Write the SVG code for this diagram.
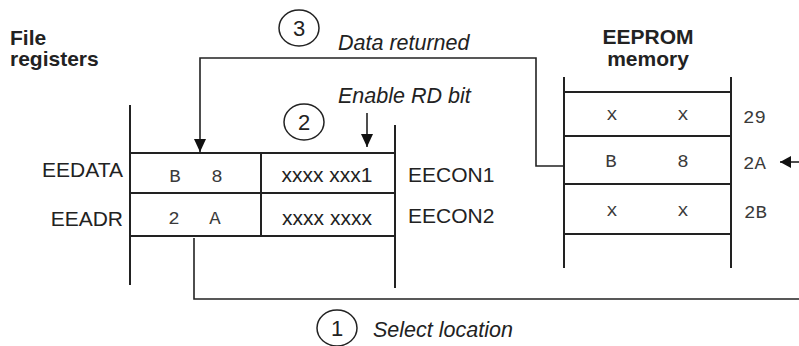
<svg xmlns="http://www.w3.org/2000/svg" width="799" height="346" viewBox="0 0 799 346">
<style>
.lbl{font-family:"Liberation Sans",Arial,sans-serif;font-size:21px;fill:#222}
.b{font-weight:bold}
.it{font-family:"Liberation Sans",Arial,sans-serif;font-style:italic;font-size:21.5px;fill:#222}
.num{font-family:"Liberation Sans",Arial,sans-serif;font-size:22px;fill:#222}
.mono{font-family:"Liberation Mono","Courier New",monospace;font-size:19px;fill:#3a3a3a}
.box{stroke:#222;stroke-width:2;fill:none}
.con{stroke:#222;stroke-width:1.6;fill:none}
.circ{stroke:#222;stroke-width:1.5;fill:none}
</style>
<defs>
<marker id="ah" viewBox="0 0 13 12" refX="13" refY="6" markerWidth="13" markerHeight="12" markerUnits="userSpaceOnUse" orient="auto">
<path d="M0,0 L13,6 L0,12 z" fill="#111"/>
</marker>
<marker id="ahs" viewBox="0 0 11 12" refX="11" refY="6" markerWidth="11" markerHeight="12" markerUnits="userSpaceOnUse" orient="auto">
<path d="M0,0 L11,6 L0,12 z" fill="#111"/>
</marker>
</defs>

<g id="file-registers-title">
<text class="lbl b" x="10" y="45">File</text>
<text class="lbl b" x="10" y="66">registers</text>
</g>

<g id="registers">
<line class="box" x1="130" y1="105" x2="130" y2="285"/>
<line class="box" x1="395" y1="125" x2="395" y2="288"/>
<line class="box" x1="130" y1="153" x2="395" y2="153"/>
<line class="box" x1="130" y1="193" x2="395" y2="193"/>
<line class="box" x1="130" y1="236" x2="395" y2="236"/>
<line class="box" x1="261" y1="153" x2="261" y2="236"/>
</g>

<g id="eedata">
<text class="lbl" x="123" y="177" text-anchor="end">EEDATA</text>
<text class="mono" x="175" y="182" text-anchor="middle">B</text>
<text class="mono" x="217" y="182" text-anchor="middle">8</text>
</g>
<g id="eeadr">
<text class="lbl" x="123" y="226" text-anchor="end">EEADR</text>
<text class="mono" x="174" y="224" text-anchor="middle">2</text>
<text class="mono" x="215" y="224" text-anchor="middle">A</text>
</g>
<g id="eecon1">
<text class="lbl" x="327" y="182" text-anchor="middle">xxxx xxx1</text>
<text class="lbl" x="408" y="182">EECON1</text>
</g>
<g id="eecon2">
<text class="lbl" x="327" y="225" text-anchor="middle">xxxx xxxx</text>
<text class="lbl" x="408" y="223">EECON2</text>
</g>

<g id="eeprom">
<text class="lbl b" x="648" y="44" text-anchor="middle">EEPROM</text>
<text class="lbl b" x="648" y="66" text-anchor="middle">memory</text>
<line class="box" x1="564" y1="77" x2="564" y2="268"/>
<line class="box" x1="731" y1="77" x2="731" y2="268"/>
<line class="box" x1="564" y1="92" x2="731" y2="92"/>
<line class="box" x1="564" y1="136" x2="731" y2="136"/>
<line class="box" x1="564" y1="184" x2="731" y2="184"/>
<line class="box" x1="564" y1="234" x2="731" y2="234"/>
</g>
<g id="loc29">
<text class="mono" x="612" y="120" text-anchor="middle">x</text>
<text class="mono" x="683" y="120" text-anchor="middle">x</text>
<text class="mono" x="743" y="123">29</text>
</g>
<g id="loc2A">
<text class="mono" x="611" y="167" text-anchor="middle">B</text>
<text class="mono" x="683" y="167" text-anchor="middle">8</text>
<text class="mono" x="743" y="169">2A</text>
</g>
<g id="loc2B">
<text class="mono" x="612" y="216" text-anchor="middle">x</text>
<text class="mono" x="683" y="216" text-anchor="middle">x</text>
<text class="mono" x="744" y="218">2B</text>
</g>

<g id="step-labels">
<ellipse class="circ" cx="299" cy="28" rx="20" ry="18"/>
<text class="num" x="299" y="36" text-anchor="middle">3</text>
<text class="it" x="338" y="50">Data returned</text>
<ellipse class="circ" cx="304" cy="122" rx="20" ry="18"/>
<text class="num" x="304" y="130" text-anchor="middle">2</text>
<text class="it" x="338" y="103">Enable RD bit</text>
<ellipse class="circ" cx="337" cy="328" rx="20" ry="18"/>
<text class="num" x="337" y="336" text-anchor="middle">1</text>
<text class="it" x="373" y="337">Select location</text>
</g>

<g id="connectors">
<polyline class="con" points="564,166 536,166 536,58 200,58 200,152" marker-end="url(#ah)"/>
<line class="con" x1="367" y1="113" x2="367" y2="147" marker-end="url(#ah)"/>
<polyline class="con" points="194,238 194,299 799,299"/>
<line class="con" x1="799" y1="162" x2="780" y2="162" marker-end="url(#ahs)"/>
</g>
</svg>
